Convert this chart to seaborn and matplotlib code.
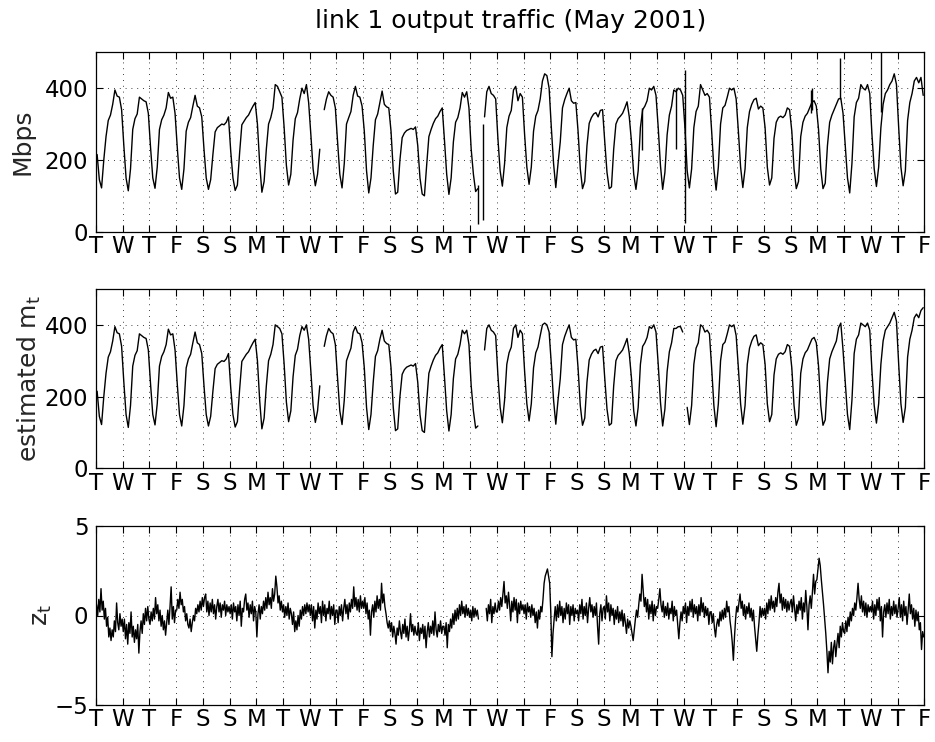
import numpy as np
import pandas as pd
import matplotlib
matplotlib.use("Agg")
import matplotlib.pyplot as plt
import seaborn as sns

nan = float("nan")

# ---------------- data ----------------
title = "link 1 output traffic (May 2001)"
day_labels = list("TWTFSSMTWTFSSMTWTFSSMTWTFSSMTWTF")   # Tue May 1 ... Fri Jun 1
sample_hours = [1, 3, 5, 7, 9, 11, 13, 15, 17, 19, 21, 23]
z_sample_hours = [h + 0.5 for h in range(24)]

# Mbps, one row per day (May 1 .. May 31), sampled at sample_hours
mbps = [
    [215, 145, 122, 200, 265, 310, 325, 355, 395, 378, 375, 340],
    [240, 150, 114, 175, 285, 315, 328, 375, 370, 365, 362, 330],
    [235, 150, 121, 180, 285, 312, 325, 345, 388, 372, 375, 330],
    [235, 150, 118, 175, 280, 305, 318, 350, 380, 350, 345, 320],
    [230, 150, 118, 145, 215, 278, 290, 295, 300, 298, 305, 320],
    [225, 150, 115, 130, 220, 298, 308, 318, 325, 338, 350, 360],
    [300, 190, 110, 140, 230, 300, 318, 345, 410, 405, 390, 375],
    [290, 185, 130, 160, 255, 315, 332, 370, 400, 385, 410, 360],
    [270, 175, 128, 160, 230, nan, 340, 370, 390, 380, 375, 345],
    [250, 160, 122, 190, 300, 318, 335, 380, 405, 378, 375, 350],
    [280, 170, 108, 150, 240, 312, 328, 360, 392, 355, 348, 345],
    [280, 170, 105, 110, 200, 262, 275, 282, 285, 288, 285, 292],
    [240, 150, 105, 100, 185, 265, 285, 302, 315, 322, 335, 345],
    [255, 160, 104, 150, 250, 305, 318, 345, 388, 375, 390, 345],
    [230, 160, 112, 120, nan, nan, 320, 390, 405, 385, 380, 370],
    [260, 170, 127, 190, 290, 322, 338, 395, 405, 365, 385, 375],
    [270, 180, 132, 180, 280, 322, 338, 370, 420, 440, 435, 400],
    [290, 190, 123, 190, 250, 345, 368, 385, 400, 365, 358, 360],
    [280, 175, 120, 140, 240, 302, 318, 328, 332, 320, 338, 340],
    [250, 165, 120, 125, 230, 300, 315, 322, 330, 345, 362, 320],
    [250, 160, 118, 170, 290, 340, 350, 365, 400, 395, 405, 380],
    [290, 185, 118, 165, 270, 325, 350, 395, 390, 400, 395, 380],
    [290, 170, 122, 175, 290, 335, 350, 410, 395, 380, 385, 375],
    [280, 175, 116, 180, 300, 345, 352, 375, 400, 395, 400, 370],
    [280, 180, 123, 175, 290, 335, 355, 368, 372, 342, 350, 345],
    [290, 180, 130, 150, 260, 305, 318, 322, 318, 325, 345, 340],
    [280, 175, 120, 140, 265, 305, 322, 330, 345, 360, 365, 350],
    [285, 175, 120, 135, 240, 305, 325, 340, 355, 370, 372, 330],
    [240, 150, 108, 190, 320, 360, 372, 410, 400, 395, 410, 385],
    [270, 175, 126, 180, 290, 355, 385, 395, 410, 420, 440, 410],
    [290, 180, 128, 170, 310, 360, 385, 420, 430, 415, 430, 380],
]

# isolated spikes in the measured traffic
spike_day = [14, 14, 20, 21, 22, 26, 26, 27, 29]
spike_hour = [6.9, 12.0, 10.2, 17.0, 1.5, 18.5, 19.5, 20.7, 9.0]
spike_low = [21, 33, 228, 230, 25, 330, 340, 370, 335]
spike_high = [130, 300, 345, 400, 451, 395, 400, 484, 500]

# estimated mean m_t
m_est = [
    [215, 145, 122, 200, 265, 310, 325, 355, 395, 378, 375, 340],
    [240, 150, 114, 175, 285, 315, 328, 375, 370, 365, 362, 330],
    [235, 150, 121, 180, 285, 312, 325, 345, 388, 372, 375, 330],
    [235, 150, 118, 175, 280, 305, 318, 350, 380, 350, 345, 320],
    [230, 150, 118, 145, 215, 278, 290, 295, 300, 298, 305, 320],
    [225, 150, 115, 130, 220, 298, 308, 318, 325, 338, 350, 360],
    [300, 190, 110, 140, 230, 300, 318, 345, 400, 395, 390, 375],
    [290, 185, 130, 160, 255, 315, 332, 370, 395, 385, 400, 360],
    [270, 175, 128, 160, 230, nan, 340, 370, 390, 380, 375, 345],
    [250, 160, 122, 190, 300, 318, 335, 380, 395, 378, 375, 350],
    [280, 170, 108, 150, 240, 312, 328, 360, 385, 355, 348, 345],
    [280, 170, 105, 110, 200, 262, 275, 282, 285, 288, 285, 292],
    [240, 150, 105, 100, 185, 265, 285, 302, 315, 322, 335, 345],
    [255, 160, 104, 150, 250, 305, 318, 345, 385, 375, 385, 345],
    [230, 160, 112, 118, nan, nan, 330, 390, 400, 385, 380, 370],
    [260, 170, 127, 190, 290, 322, 338, 390, 400, 365, 385, 375],
    [270, 180, 132, 180, 280, 322, 338, 370, 400, 405, 400, 380],
    [290, 190, 123, 190, 250, 345, 368, 385, 400, 365, 358, 360],
    [280, 175, 120, 140, 240, 302, 318, 328, 332, 320, 338, 340],
    [250, 165, 120, 125, 230, 300, 315, 322, 330, 345, 362, 320],
    [250, 160, 118, 170, 290, 340, 350, 365, 395, 390, 400, 380],
    [290, 185, 118, 165, 270, 325, 350, 390, 390, 395, 395, 380],
    [nan, 170, 122, 175, 290, 335, 350, 400, 395, 380, 385, 375],
    [280, 175, 116, 180, 300, 345, 352, 375, 400, 395, 400, 370],
    [280, 180, 123, 175, 290, 335, 355, 368, 372, 342, 350, 345],
    [290, 180, 130, 150, 260, 305, 318, 322, 318, 325, 345, 340],
    [280, 175, 120, 140, 265, 305, 322, 330, 345, 360, 365, 350],
    [285, 175, 120, 135, 240, 305, 325, 340, 355, 392, 405, 330],
    [240, 150, 108, 190, 320, 360, 372, 405, 400, 395, 405, 385],
    [270, 175, 126, 180, 290, 355, 385, 395, 405, 420, 435, 410],
    [290, 180, 128, 170, 310, 360, 385, 420, 430, 420, 440, 448],
]

# normalised residual z_t, one row per day, hourly (z_sample_hours)
z_t = [
    [0.6, 0.0, 0.9, 0.2, 1.5, 0.3, 0.8, -0.2, 0.4, -0.6, -0.1, -1.2, -0.7, -1.4, -0.8, -1.2, -0.3, -0.9, 0.7, -0.4, -0.8, 0.1, -0.6, -0.2],
    [-0.9, -0.2, -1.3, -0.5, -1.6, -0.4, -1.0, 0.2, -1.2, -0.6, -1.5, -0.8, -1.3, -0.5, -2.1, -0.9, -0.3, -1.0, 0.1, -0.5, 0.4, -0.3, 0.5, -0.2],
    [-0.5, 0.2, -0.3, 0.4, -0.2, 1.0, 0.1, 0.6, -0.3, 0.3, -0.6, 0.0, -0.8, -0.3, -1.1, -0.4, 0.3, -0.5, 0.5, 1.6, -0.2, 0.5, -0.4, 0.3],
    [0.3, 0.9, 0.4, 1.3, 0.6, 0.9, 0.2, 0.5, -0.3, 0.1, -0.5, -0.7, -0.2, -0.9, -0.4, 0.0, -0.3, 0.4, 0.1, 0.6, 0.2, 0.8, 0.3, 1.0],
    [0.5, 1.0, 1.2, 0.2, 0.8, 0.0, 0.7, 0.2, 0.9, 0.1, 0.6, -0.2, 0.5, 0.9, 0.2, 0.7, -0.1, 0.6, 0.3, 0.8, 0.0, 0.6, 0.2, 0.5],
    [0.1, 0.6, -0.2, 0.7, 0.2, 0.5, -0.3, 0.6, 0.0, 0.8, -0.6, 0.4, 0.2, 0.9, 1.2, 0.3, 0.7, -0.1, 0.6, 0.1, 0.8, -0.3, 0.5, 0.2],
    [-1.2, 0.1, 0.6, -0.2, 0.5, 0.1, 0.8, 0.3, 1.0, 0.4, 1.3, 0.6, 1.0, 0.4, 1.5, 0.8, 1.2, 2.2, 1.6, 0.7, 1.1, 0.3, 0.8, 0.2],
    [0.6, -0.1, 0.5, 0.0, 0.7, -0.2, 0.4, 0.1, -0.5, 0.2, -0.9, -0.3, -0.8, 0.0, -0.6, 0.3, -0.2, 0.5, 0.0, 0.6, 0.1, 0.7, 0.2, 0.6],
    [0.0, 0.6, -0.3, 0.5, -0.7, 0.3, -0.2, 0.7, 0.1, 0.5, -0.4, 0.8, 0.0, 0.6, -0.3, 0.4, 0.1, 0.8, -0.2, 0.5, 0.0, 0.6, -0.5, 0.3],
    [0.3, -0.4, 0.5, 0.0, 0.6, -0.3, 0.4, 0.9, 0.1, 0.6, -0.2, 0.7, 0.2, 0.9, 0.4, 1.6, 0.5, 1.0, 0.3, 0.9, 0.2, 1.1, 0.4, 0.8],
    [0.4, 1.0, 0.1, 0.7, -0.2, 0.3, -1.1, 0.2, 0.6, -0.1, 0.8, 0.2, 1.1, 0.4, 0.9, 0.3, 1.8, 0.7, 1.2, 0.5, 0.1, -0.4, -0.7, -0.3],
    [-0.9, -0.4, -1.2, -0.6, -1.0, -1.6, -0.7, -1.1, -0.3, -0.9, -1.3, -0.5, -1.0, -0.2, -1.2, -0.6, -1.4, -0.8, 0.1, -0.9, -0.5, -1.1, -0.6, -1.0],
    [-1.1, -0.4, -1.4, -0.7, -1.0, -0.5, -1.3, -0.6, -1.8, -0.9, -0.4, -1.2, -0.6, -1.0, -0.3, -1.1, 0.2, -0.8, -1.2, -0.5, -0.9, -0.3, -1.0, -0.6],
    [-0.6, -1.1, -0.4, -1.8, -0.5, -0.9, -0.2, -0.7, 0.1, -0.5, 0.3, -0.3, 0.4, -0.2, 0.6, 0.0, 0.8, 0.1, 0.5, -0.1, 0.6, 0.0, 0.4, -0.1],
    [0.3, -0.3, 0.5, -0.1, 0.4, 0.0, 0.3, -0.2, nan, nan, nan, nan, nan, nan, 0.4, -0.3, 0.6, 0.1, 0.9, -0.4, 0.5, 0.1, 0.7, 0.2],
    [0.2, 0.8, 0.3, 1.0, 0.5, 1.2, 1.9, 0.7, 1.1, 0.4, 1.3, 0.6, -0.3, 0.8, 0.2, 1.0, 0.3, 0.9, -0.4, 0.7, 0.1, 0.8, 0.3, 0.6],
    [0.1, 0.6, -0.2, 0.7, 0.2, 0.5, -0.1, 0.6, 0.0, 0.4, -0.4, 0.2, -0.7, 0.3, -0.2, 0.5, 0.2, 0.9, 1.8, 2.2, 2.4, 2.6, 2.2, 1.8],
    [0.2, -2.3, -1.0, -0.2, 0.5, -0.3, 0.6, -0.1, 0.8, 0.0, 0.5, -0.4, 0.4, -0.2, 0.7, 0.1, 0.6, -0.5, 0.5, 0.0, 0.6, -0.3, 0.4, 0.1],
    [0.3, -0.3, 0.6, 0.1, 0.9, -0.2, 0.5, 0.0, 0.7, -0.4, 0.4, 1.0, 0.2, 0.6, -0.1, 0.5, 0.0, 0.7, -0.6, -1.6, 0.1, 0.6, -0.3, 0.4],
    [0.5, -0.2, 1.1, 0.2, 0.7, -0.3, 0.6, 0.0, 0.4, -0.5, 0.3, -0.2, 0.5, -0.4, 0.2, -0.3, 0.3, -0.6, 0.1, -0.4, -1.0, -0.2, -0.7, -0.3],
    [-0.6, -1.0, -1.4, -0.8, -0.2, 0.3, -0.1, 0.6, 1.2, 0.8, 2.3, 1.4, 0.5, 1.0, 0.2, 0.9, -0.2, 0.6, 0.1, 0.8, -0.3, 0.6, 0.0, 0.5],
    [0.4, 0.9, 1.5, 0.6, 0.2, 0.8, -0.1, 0.5, 0.0, 0.7, -0.2, 0.4, 0.1, 0.8, -0.3, 0.5, 0.0, 0.3, -0.5, -1.3, -0.4, 0.2, -0.3, 0.5],
    [0.1, 0.7, -0.4, 0.5, 0.0, 0.8, 0.2, 0.9, -0.1, 0.6, 0.1, 0.5, -0.3, 0.6, 0.0, 1.0, 0.2, 0.7, -0.1, 0.5, 0.0, 0.4, -0.5, 0.2],
    [0.2, -0.4, 0.1, -0.7, -1.2, -0.5, -0.2, -0.6, 0.2, -0.3, 0.3, -0.2, 0.4, -0.1, 0.8, 0.2, 0.5, -0.3, -0.8, -1.5, -2.5, -1.2, -0.2, 0.5],
    [0.2, 0.7, 1.2, 0.4, 0.8, 0.0, 0.6, -0.2, 0.5, 0.1, 0.7, -0.1, 0.4, -0.3, 0.3, -0.6, -1.3, -2.0, -1.1, -0.4, 0.5, -0.1, 0.4, 0.0],
    [0.4, -0.2, 0.7, 0.1, 0.9, 0.3, 1.1, 0.4, 0.8, 0.2, 1.0, 0.5, 1.3, 1.8, 0.7, 1.2, 0.3, 1.0, 0.4, 0.9, 0.2, 0.8, 0.3, 0.7],
    [0.9, 0.2, 1.1, 0.4, -0.3, 0.6, 0.1, 0.8, 0.3, 1.0, -0.2, 0.7, 0.2, 1.4, 0.5, -0.8, 0.6, 1.1, 0.4, 1.3, 2.3, 1.2, 1.9, 2.0],
    [2.6, 3.2, 2.8, 2.0, 1.3, 0.6, -0.2, -1.0, -2.0, -3.2, -2.0, -2.6, -1.5, -2.7, -1.8, -1.4, -2.3, -1.6, -1.0, -1.8, -0.6, -1.2, -0.4, -0.9],
    [-1.0, -0.3, -0.9, -0.1, -0.6, 0.2, -0.3, 0.4, 0.0, 0.7, 0.3, 1.0, 1.8, 0.9, 0.4, 1.1, 0.2, 0.8, 0.0, 0.7, -0.1, 0.6, 0.2, 0.5],
    [0.2, 0.8, -0.2, 0.6, 0.0, 0.9, 0.3, 1.0, -0.3, 0.5, -1.2, 0.2, 0.6, -0.1, 0.7, 0.1, 0.9, -0.2, 0.5, 0.0, 0.8, 0.1, 0.6, -0.1],
    [0.4, 1.0, -0.1, 0.6, -0.3, 0.8, 0.0, 0.5, -0.5, 0.3, 1.2, 0.1, 0.6, -0.2, 0.4, -0.6, 0.3, -0.3, 0.2, -0.8, -0.4, -1.9, -0.9, -1.2],
]

y_ticks_traffic = [0, 200, 400]
y_ticks_z = [-5, 0, 5]
y_labels = ["Mbps", r"estimated $\mathregular{m_t}$", r"$\mathregular{z_t}$"]


def series_frame(rows, hours):
    vals = np.array(rows, dtype=float)
    t = np.arange(vals.shape[0])[:, None] + np.array(hours)[None, :] / 24.0
    vals = vals.ravel()
    seg = np.cumsum(np.isnan(vals))
    df = pd.DataFrame({"t": t.ravel(), "v": vals, "seg": seg})
    return df.dropna()


# ---------------- style ----------------
sns.set_style("ticks")
plt.rcParams["font.family"] = ["DejaVu Sans"]
plt.rcParams["mathtext.fontset"] = "dejavusans"
FS = 16.5

fig = plt.figure(figsize=(9.35, 7.42), dpi=100)
W, H = 935.0, 742.0
left, right = 96.0, 924.3
panel_tb = [(52.3, 231.7), (289.0, 468.3), (526.0, 705.0)]
axes = []
for top, bot in panel_tb:
    axes.append(fig.add_axes([left / W, 1 - bot / H, (right - left) / W, (bot - top) / H]))

frames = [series_frame(mbps, sample_hours), series_frame(m_est, sample_hours),
          series_frame(z_t, z_sample_hours)]
for i, (ax, df) in enumerate(zip(axes, frames)):
    sns.lineplot(data=df, x="t", y="v", units="seg", estimator=None, sort=True,
                 color="black", linewidth=1.0, ax=ax, legend=False)
    if i == 0:
        st = np.array(spike_day) + np.array(spike_hour) / 24.0
        ax.vlines(st, spike_low, spike_high, color="black", linewidth=1.0)
    ax.set_xlim(0, 31)
    ax.set_xticks(range(len(day_labels)))
    ax.set_xticklabels(day_labels)
    if i < 2:
        ax.set_ylim(0, 500)
        ax.set_yticks(y_ticks_traffic)
    else:
        ax.set_ylim(-5, 5)
        ax.set_yticks(y_ticks_z)
    ax.set_xlabel("")
    ax.set_ylabel(y_labels[i], fontsize=18)
    ax.yaxis.label.set_va("center")
    ax.set_axisbelow(True)
    ax.grid(True, color="black", linestyle=(0, (1, 6)), linewidth=0.6)
    ax.tick_params(axis="both", direction="in", length=5, width=0.8,
                   top=True, right=True, labelsize=FS, colors="black")
    ax.tick_params(axis="x", pad=2.5)
    ax.tick_params(axis="y", pad=5.5)
    for sp in ax.spines.values():
        sp.set_visible(True)
        sp.set_linewidth(0.9)
        sp.set_color("black")

axes[0].yaxis.set_label_coords(-0.089, 0.5)
axes[1].yaxis.set_label_coords(-0.08, 0.5)
axes[2].yaxis.set_label_coords(-0.065, 0.5)

fig.text((left + right) / 2 / W, 1 - 21.0 / H, title, ha="center", va="center",
         fontsize=18, color="black")

fig.savefig("out.png", dpi=100, facecolor="white")
